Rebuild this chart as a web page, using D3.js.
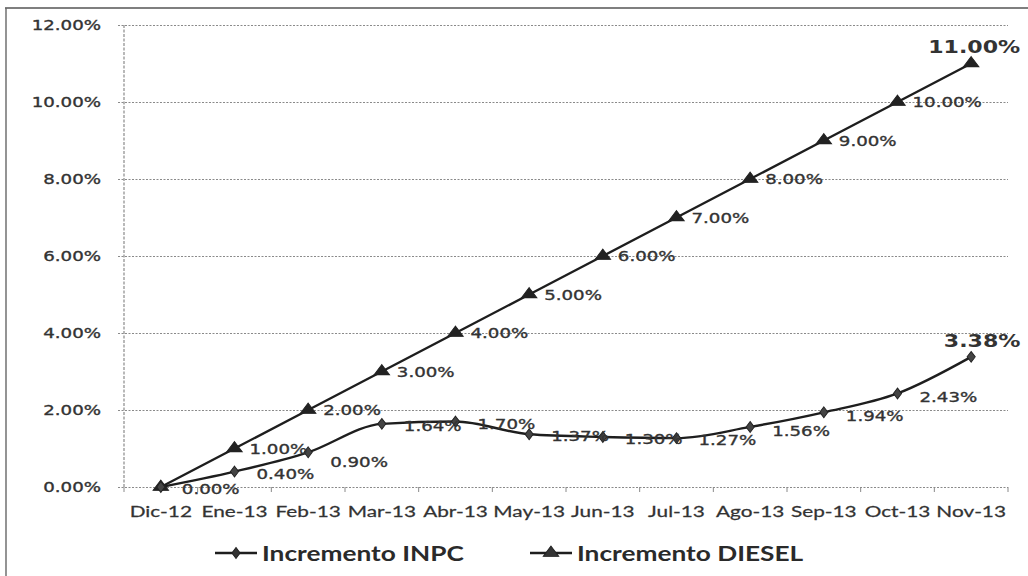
<!DOCTYPE html>
<html>
<head>
<meta charset="utf-8">
<script src="https://cdn.jsdelivr.net/npm/d3@7"></script>
<style>
  html, body { margin: 0; padding: 0; background: #ffffff; }
  svg { display: block; }
</style>
</head>
<body>
<div id="chart"></div>
<script>
// ---- data ----
const categories = ["Dic-12","Ene-13","Feb-13","Mar-13","Abr-13","May-13","Jun-13","Jul-13","Ago-13","Sep-13","Oct-13","Nov-13"];
const inpc   = [0.00, 0.40, 0.90, 1.64, 1.70, 1.37, 1.30, 1.27, 1.56, 1.94, 2.43, 3.38];
const diesel = [0.00, 1.00, 2.00, 3.00, 4.00, 5.00, 6.00, 7.00, 8.00, 9.00, 10.00, 11.00];
const yTicks = [0, 2, 4, 6, 8, 10, 12];
const seriesNames = ["Incremento INPC", "Incremento DIESEL"];

// ---- layout ----
const W = 1028, H = 576;
const plot = { left: 124, right: 1008, top: 25, bottom: 487 };
const SX = 1.3; // horizontal stretch of the scanned picture
const ink = "#1e1e1e", txt = "#333333", grid = "#8a8a8a";

const svg = d3.select("#chart").append("svg").attr("width", W).attr("height", H);
svg.append("rect").attr("width", W).attr("height", H).attr("fill", "#ffffff");

// scanned frame
svg.append("line").attr("x1", 5).attr("x2", W).attr("y1", 8).attr("y2", 8)
  .attr("stroke", "#555").attr("stroke-width", 1.6);
svg.append("line").attr("x1", 6).attr("x2", 6).attr("y1", 8).attr("y2", H)
  .attr("stroke", "#666").attr("stroke-width", 1.4);

const x = d3.scaleBand().domain(categories).range([plot.left, plot.right]).padding(0);
const cx = c => x(c) + x.bandwidth() / 2;
const y = d3.scaleLinear().domain([0, 12]).range([plot.bottom, plot.top]);

function stretchedText(g, px, py, str, anchor) {
  return g.append("text")
    .attr("transform", `translate(${px},${py}) scale(${SX},1)`)
    .attr("text-anchor", anchor)
    .text(str);
}

// gridlines via axis
const yAxis = d3.axisLeft(y).tickValues(yTicks).tickSize(-(plot.right - plot.left)).tickFormat("");
const gy = svg.append("g").attr("transform", `translate(${plot.left},0)`).call(yAxis);
gy.select(".domain").remove();
gy.selectAll(".tick line")
  .attr("x1", -6)
  .attr("stroke", grid).attr("stroke-width", 1).attr("stroke-dasharray", "2,1.5");

// y axis line
svg.append("line").attr("x1", plot.left).attr("x2", plot.left).attr("y1", plot.top).attr("y2", plot.bottom)
  .attr("stroke", grid).attr("stroke-width", 1.2).attr("stroke-dasharray", "3,1.5");

// x axis ticks between categories
const xb = svg.append("g");
xb.selectAll("line").data(categories.concat(["_end"])).join("line")
  .attr("x1", (d, i) => i < categories.length ? x(d) : plot.right)
  .attr("x2", (d, i) => i < categories.length ? x(d) : plot.right)
  .attr("y1", plot.bottom).attr("y2", plot.bottom + 5)
  .attr("stroke", grid).attr("stroke-width", 1);

// y labels
const yl = svg.append("g").attr("font-family", "DejaVu Sans").attr("font-size", 14)
  .attr("fill", txt).attr("stroke", txt).attr("stroke-width", 0.35);
yTicks.forEach(t => stretchedText(yl, 101, y(t) + 5, t.toFixed(2) + "%", "end"));

// x labels
const xl = svg.append("g").attr("font-family", "Lato, 'Liberation Sans'").attr("font-size", 16)
  .attr("fill", txt).attr("stroke", txt).attr("stroke-width", 0.25);
categories.forEach(c => stretchedText(xl, cx(c), 517, c, "middle"));

// lines
const lineStraight = d3.line().x((d, i) => cx(categories[i])).y(d => y(d));
const lineSmooth = d3.line().x((d, i) => cx(categories[i])).y(d => y(d)).curve(d3.curveMonotoneX);

svg.append("path").datum(diesel).attr("d", lineStraight)
  .attr("fill", "none").attr("stroke", ink).attr("stroke-width", 2.4);
svg.append("path").datum(inpc).attr("d", lineSmooth)
  .attr("fill", "none").attr("stroke", ink).attr("stroke-width", 2.4);

// markers
const tri = d3.symbol().type(d3.symbolTriangle).size(62)();
const dia = d3.symbol().type(d3.symbolDiamond).size(34)();
svg.append("g").selectAll("path").data(diesel).join("path")
  .attr("d", tri)
  .attr("transform", (d, i) => `translate(${cx(categories[i])},${y(d)}) scale(${SX},1)`)
  .attr("fill", "#222").attr("stroke", "#222").attr("stroke-width", 0.8);
svg.append("g").selectAll("path").data(inpc).join("path")
  .attr("d", dia)
  .attr("transform", (d, i) => `translate(${cx(categories[i])},${y(d)}) scale(${SX},1)`)
  .attr("fill", "#444").attr("stroke", "#222").attr("stroke-width", 0.8);

// data labels
const dl = svg.append("g").attr("font-family", "DejaVu Sans").attr("font-size", 14)
  .attr("fill", txt).attr("stroke", txt).attr("stroke-width", 0.35);
diesel.forEach((v, i) => {
  if (i === diesel.length - 1) return;
  const px = cx(categories[i]), py = y(v);
  stretchedText(dl, px + (i === 0 ? 21 : 15), py + 5 + (i === 0 ? 2 : 0), v.toFixed(2) + "%", "start");
});
inpc.forEach((v, i) => {
  if (i === 0 || i === inpc.length - 1) return;
  const px = cx(categories[i]), py = y(v);
  const dy = (i === 2) ? 10 : (i >= 8 ? 4 : 2);
  stretchedText(dl, px + 22, py + 5 + dy, v.toFixed(2) + "%", "start");
});
// emphasized last labels
const bl = svg.append("g").attr("font-family", "DejaVu Sans").attr("font-weight", "bold").attr("font-size", 17).attr("fill", "#333");
{
  const i = diesel.length - 1;
  stretchedText(bl, cx(categories[i]) + 3, y(diesel[i]) - 11, diesel[i].toFixed(2) + "%", "middle");
  stretchedText(bl, cx(categories[i]) + 11, y(inpc[i]) - 10, inpc[i].toFixed(2) + "%", "middle");
}

// legend
const lg = svg.append("g");
const legendItems = [
  { name: seriesNames[0], x0: 215, sym: dia, tx: 262 },
  { name: seriesNames[1], x0: 530, sym: tri, tx: 577 }
];
legendItems.forEach(it => {
  lg.append("line").attr("x1", it.x0).attr("x2", it.x0 + 42).attr("y1", 553).attr("y2", 553)
    .attr("stroke", ink).attr("stroke-width", 2.4);
  lg.append("path").attr("d", it.sym)
    .attr("transform", `translate(${it.x0 + 21},553) scale(${SX},1)`)
    .attr("fill", "#333").attr("stroke", "#222").attr("stroke-width", 0.8);
  lg.append("text")
    .attr("transform", `translate(${it.tx},561) scale(1.25,1)`)
    .attr("font-family", "Lato, 'Liberation Sans'").attr("font-weight", "bold")
    .attr("font-size", 21).attr("fill", "#2a2a2a")
    .text(it.name);
});
</script>
</body>
</html>
